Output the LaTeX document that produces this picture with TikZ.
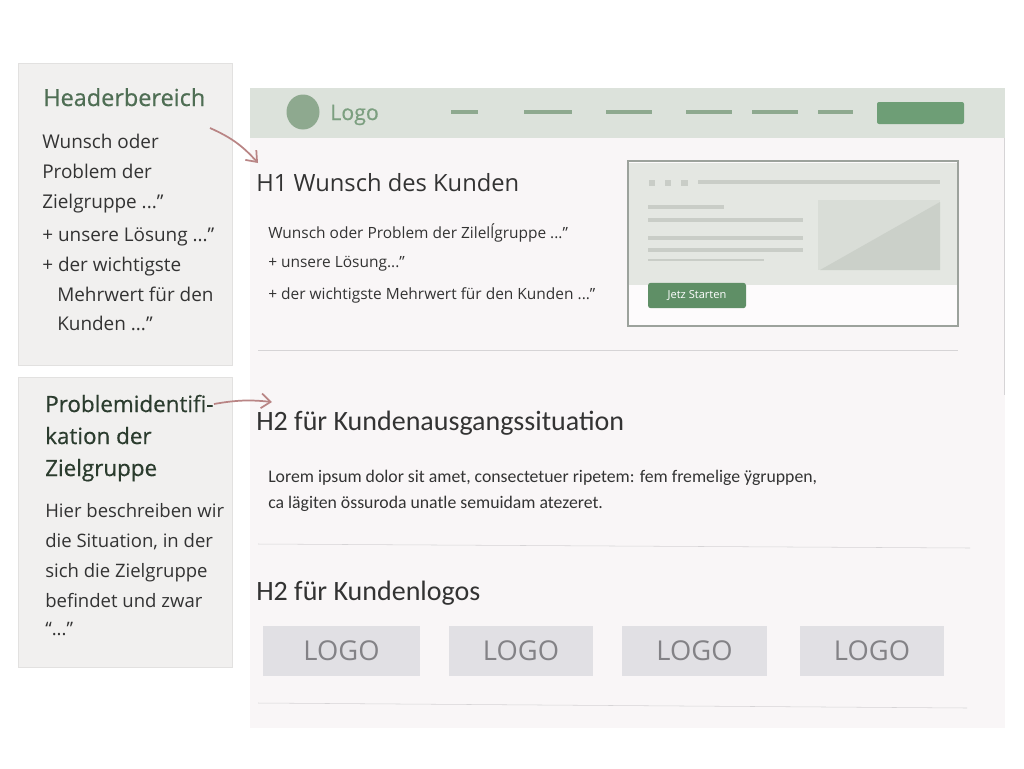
\documentclass[tikz,border=0pt]{standalone}
\usepackage{fontspec}
\setmainfont{Open Sans}
\newfontfamily\narrowfont{Carlito}
\newfontfamily\semifont[FakeBold=0.6]{Open Sans}
\usetikzlibrary{arrows.meta}
\definecolor{panelgray}{HTML}{F1F0EF}
\definecolor{panelline}{HTML}{E2E1E0}
\definecolor{headgreen}{HTML}{4F6E54}
\definecolor{bodygray}{HTML}{333333}
\definecolor{pagebg}{HTML}{F9F6F7}
\definecolor{barbg}{HTML}{DCE2DB}
\definecolor{navgreen}{HTML}{8EA98F}
\definecolor{btngreen}{HTML}{6E9E76}
\definecolor{logogreen}{HTML}{7C9F80}
\definecolor{heroline}{HTML}{9CA29C}
\definecolor{herobg}{HTML}{E4E7E2}
\definecolor{herobar}{HTML}{C9CDC7}
\definecolor{heroimg}{HTML}{D9DDD7}
\definecolor{heroimgdark}{HTML}{CBD0C9}
\definecolor{startgreen}{HTML}{5F8F66}
\definecolor{sepgray}{HTML}{D6D4D6}
\definecolor{logobox}{HTML}{E1E0E4}
\definecolor{logotext}{HTML}{838286}
\definecolor{arrowred}{HTML}{B98585}
\begin{document}
\begin{tikzpicture}[x=0.75pt,y=-0.75pt]
\tikzstyle{every node}+=[inner sep=0pt,anchor=base west]
\tikzstyle{panelhead}=[text=headgreen,font=\semifont\fontsize{16.8}{19}\selectfont]
\tikzstyle{paneltext}=[text=bodygray,font=\fontsize{14.2}{16}\selectfont]
\tikzstyle{pagehead}=[text=bodygray,font=\fontsize{17.8}{21}\selectfont]
\tikzstyle{subhead}=[text=bodygray,font=\narrowfont\fontsize{21}{24}\selectfont]
\tikzstyle{pagetext}=[text=bodygray,font=\fontsize{11.6}{14}\selectfont]
\tikzstyle{loremtext}=[text=bodygray,font=\narrowfont\fontsize{13.3}{16}\selectfont]
\tikzstyle{navdash}=[navgreen,line width=3.5pt]
\tikzstyle{heroline}=[herobar,line width=3pt]
\tikzstyle{logocard}=[fill=logobox,text=logotext,anchor=center,minimum height=37.5pt,font=\fontsize{20.5}{24}\selectfont]
\tikzstyle{pointer}=[arrowred,line width=1.3pt,-{Straight Barb[length=7pt,width=11pt]}]
\useasboundingbox (0,0) rectangle (1024,768);
\fill [white] (0,0) rectangle (1024,768);
% Panel Headerbereich
\draw [panelline,fill=panelgray] (18,63) rectangle (232,365);
\node [panelhead,font=\semifont\fontsize{17.6}{20}\selectfont] (hb) at (43,106) {Headerbereich};
\node [paneltext] (hb1) at (42,148) {Wunsch oder};
\node [paneltext] (hb2) at (42,178) {Problem der};
\node [paneltext] (hb3) at (42,208) {Zielgruppe ...”};
\node [paneltext] (hb4) at (42,241) {+ unsere Lösung ...”};
\node [paneltext] (hb5) at (42,271) {+ der wichtigste};
\node [paneltext] (hb6) at (57,301) {Mehrwert für den};
\node [paneltext] (hb7) at (57,330) {Kunden ...”};
% Panel Problemidentifikation
\draw [panelline,fill=panelgray] (18,377) rectangle (232,667);
\node [panelhead,text=headgreen!55!black] (pi) at (45,412) {Problemidentifi-};
\node [panelhead,text=headgreen!55!black] (pi2) at (45,444) {kation der};
\node [panelhead,text=headgreen!55!black] (pi3) at (45,476) {Zielgruppe};
\node [paneltext,font=\fontsize{13.9}{16}\selectfont] (pi4) at (45,517) {Hier beschreiben wir};
\node [paneltext,font=\fontsize{13.9}{16}\selectfont] (pi5) at (45,547) {die Situation, in der};
\node [paneltext,font=\fontsize{13.9}{16}\selectfont] (pi6) at (45,577) {sich die Zielgruppe};
\node [paneltext,font=\fontsize{13.9}{16}\selectfont] (pi7) at (45,607) {befindet und zwar};
\node [paneltext,font=\fontsize{13.9}{16}\selectfont] (pi8) at (45,635) {“...”};
% Seite
\fill [pagebg] (250,88) rectangle (1005,728);
\draw [sepgray] (1004,138) -- (1004,395);
\fill [barbg] (250,88) rectangle (1005,138);
\fill [navgreen] (303,112) ellipse (16.5 and 17.5);
\node [text=logogreen,font=\semifont\fontsize{16}{18}\selectfont] (logo) at (330,120) {Logo};
\draw [navdash] (451,112) -- (478,112);
\draw [navdash] (524,112) -- (572,112);
\draw [navdash] (606,112) -- (652,112);
\draw [navdash] (686,112) -- (732,112);
\draw [navdash] (752,112) -- (798,112);
\draw [navdash] (818,112) -- (853,112);
\fill [btngreen,rounded corners=1.5pt] (877,102) rectangle (964,124);
% H1
\node [pagehead] (h1) at (256,191) {H1 Wunsch des Kunden};
\node [pagetext] (h1a) at (268,238) {Wunsch oder Problem der Zilelĺgruppe ...”};
\node [pagetext] (h1b) at (268,267) {+ unsere Lösung...”};
\node [pagetext] (h1c) at (268,299) {+ der wichtigste Mehrwert für den Kunden ...”};
% Hero
\fill [white!60!pagebg] (628,161) rectangle (958,326);
\fill [herobg] (629,163) rectangle (957,285);
\fill [herobar] (649,180) rectangle (655,186);
\fill [herobar] (665,180) rectangle (671,186);
\fill [herobar] (681,180) rectangle (688,186);
\draw [heroline] (698,182) -- (940,182);
\draw [heroline] (648,207) -- (724,207);
\draw [heroline] (648,220) -- (803,220);
\draw [heroline] (648,238) -- (803,238);
\draw [heroline] (648,250) -- (803,250);
\draw [heroline,line width=2.2pt] (648,260) -- (764,260);
\fill [heroimg] (818,200) rectangle (940,270);
\fill [heroimgdark] (820,270) -- (940,202) -- (940,270) -- cycle;
\draw [heroline,line width=1.4pt,draw=heroline] (628,161) rectangle (958,326);
\node [fill=startgreen,rounded corners=2pt,text=white,anchor=center,minimum width=73.5pt,minimum height=19pt,font=\fontsize{8.3}{10}\selectfont] (start) at (697,295.5) {Jetz Starten};
\draw [sepgray] (258,350) -- (958,350);
% H2 Ausgangssituation
\node [subhead] (h2a) at (256,430) {H2 für Kundenausgangssituation};
\node [loremtext] (lorem1) at (268,482) {Lorem ipsum dolor sit amet, consectetuer ripetem: fem fremelige ÿgruppen,};
\node [loremtext] (lorem2) at (268,508) {ca lägiten össuroda unatle semuidam atezeret.};
\draw [sepgray] (258,544) -- (970,548);
% H2 Kundenlogos
\node [subhead] (h2b) at (256,600) {H2 für Kundenlogos};
\node [logocard,minimum width=117.75pt] (logo1) at (341.5,651) {LOGO};
\node [logocard,minimum width=108pt] (logo2) at (521,651) {LOGO};
\node [logocard,minimum width=108.75pt] (logo3) at (694.5,651) {LOGO};
\node [logocard,minimum width=108pt] (logo4) at (872,651) {LOGO};
\draw [sepgray] (258,703) -- (967,708);
% Pfeile
\coordinate (hbfrom) at (210,128);
\coordinate (hbto) at (258,163);
\coordinate (pifrom) at (214,404);
\coordinate (pito) at (272,402);
\draw [pointer] (hbfrom) to[bend left=12] (hbto);
\draw [pointer] (pifrom) to[bend left=8] (pito);
\end{tikzpicture}
\end{document}
